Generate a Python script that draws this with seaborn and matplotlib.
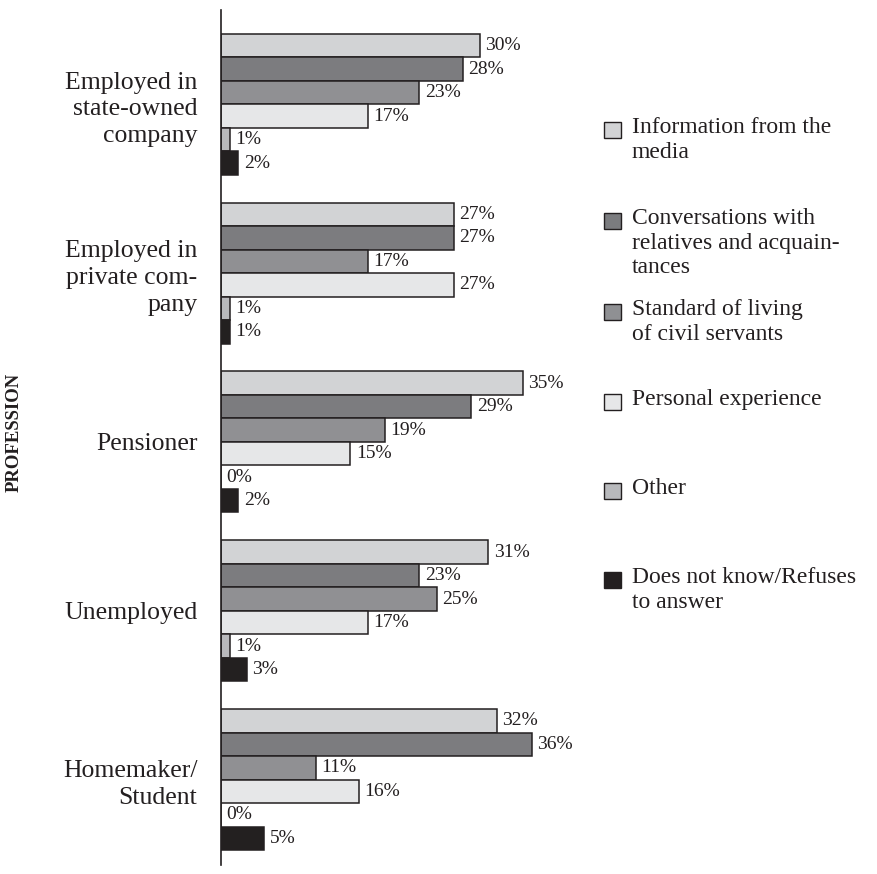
import matplotlib
matplotlib.use("Agg")
import matplotlib.pyplot as plt
import seaborn as sns
import pandas as pd
from matplotlib.patches import Rectangle

# data
professions = ["Employed in\nstate-owned\ncompany",
               "Employed in\nprivate com-\npany",
               "Pensioner",
               "Unemployed",
               "Homemaker/\nStudent"]
sources = ["Information from the\nmedia",
           "Conversations with\nrelatives and acquain-\ntances",
           "Standard of living\nof civil servants",
           "Personal experience",
           "Other",
           "Does not know/Refuses\nto answer"]
media = [30, 27, 35, 31, 32]
conversations = [28, 27, 29, 23, 36]
standard = [23, 17, 19, 25, 11]
personal = [17, 27, 15, 17, 16]
other = [1, 1, 0, 1, 0]
dont_know = [2, 1, 2, 3, 5]
colors = ["#d2d3d5", "#7b7c7f", "#8f9093", "#e6e7e8", "#b8b9bc", "#231f20"]

series = [media, conversations, standard, personal, other, dont_know]
rows = []
for src, vals in zip(sources, series):
    for prof, v in zip(professions, vals):
        rows.append({"profession": prof, "source": src, "value": v})
df = pd.DataFrame(rows)

sns.set_style("white")
plt.rcParams['font.family'] = ['Liberation Serif', 'DejaVu Serif']

fig = plt.figure(figsize=(8.78, 8.74), dpi=100)
ax = fig.add_axes([221/878, 1 - 865/874, 345/878, 855/874])

sns.barplot(data=df, x="value", y="profession", hue="source", orient="h",
            order=professions, hue_order=sources, palette=colors,
            width=0.835, gap=0, edgecolor="#231f20", linewidth=1.1,
            legend=False, ax=ax)

for cont in ax.containers:
    ax.bar_label(cont, fmt="%d%%", padding=4, fontsize=14, color="#231f20")

ax.set_xlim(0, 40)
ax.set_ylim(4.506, -0.559)
ax.set_xlabel("")
ax.set_ylabel("")
ax.set_xticks([])
for s in ["top", "right", "bottom"]:
    ax.spines[s].set_visible(False)
ax.spines["left"].set_color("#231f20")
ax.spines["left"].set_linewidth(1.2)
ax.tick_params(axis="y", length=0, pad=17, labelsize=18.5, labelcolor="#231f20")
for t in ax.get_yticklabels():
    t.set_linespacing(1.27)
    t.set_ha("right")

fig.text(14/878, 1 - 432/874, "PROFESSION", rotation=90, ha="center", va="center",
         fontsize=13.5, fontweight="bold", color="#231f20")

# legend drawn by hand so the box sits on the first line
leg_y = [130, 221, 312, 402, 491, 580]
for src, col, yy in zip(sources, colors, leg_y):
    fig.patches.append(Rectangle((604/878, 1 - (yy + 8)/874), 17/878, 16/874,
                                 transform=fig.transFigure, facecolor=col,
                                 edgecolor="#231f20", linewidth=1.0))
    fig.text(632/878, 1 - (yy - 13)/874, src, ha="left", va="top",
             fontsize=17, linespacing=1.22, color="#231f20")

fig.savefig("out.png", dpi=100)
